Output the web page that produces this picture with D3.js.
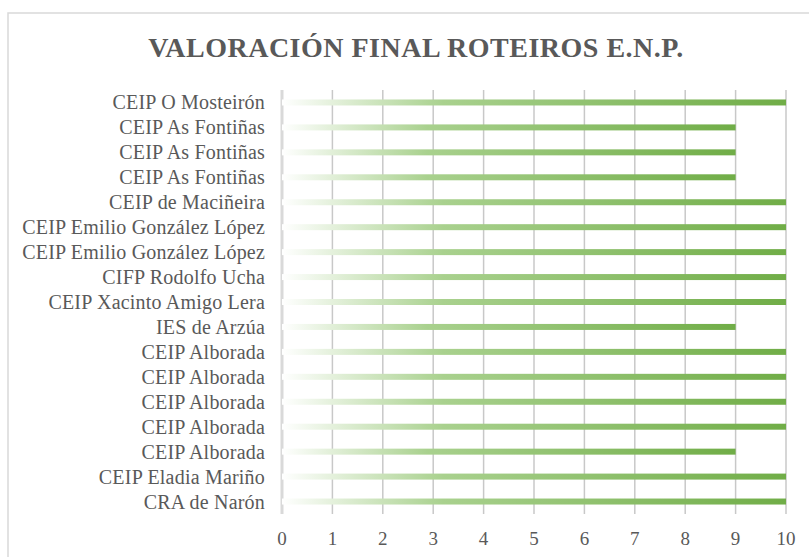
<!DOCTYPE html>
<meta charset="utf-8">
<head>
  <script src="https://d3js.org/d3.v7.min.js"></script>
  <style>
    body { margin: 0; background: #fff; }
  </style>
</head>
<body>
<div id="bar_chart"></div>
<script>

// chart data, top row first
var schools = ["CEIP O Mosteirón", "CEIP As Fontiñas", "CEIP As Fontiñas", "CEIP As Fontiñas",
  "CEIP de Maciñeira", "CEIP Emilio González López", "CEIP Emilio González López",
  "CIFP Rodolfo Ucha", "CEIP Xacinto Amigo Lera", "IES de Arzúa", "CEIP Alborada",
  "CEIP Alborada", "CEIP Alborada", "CEIP Alborada", "CEIP Alborada",
  "CEIP Eladia Mariño", "CRA de Narón"];
var scores = [10, 9, 9, 9, 10, 10, 10, 10, 10, 9, 10, 10, 10, 10, 9, 10, 10];
var ticks = [0, 1, 2, 3, 4, 5, 6, 7, 8, 9, 10];
var title = "VALORACIÓN FINAL ROTEIROS E.N.P.";

var FONT = "'Liberation Serif', 'Times New Roman', serif";
var W = 809, H = 557;
var margin = {top: 90, right: 23, bottom: 43, left: 282},
    width = W - margin.left - margin.right,
    height = H - margin.top - margin.bottom;

var root = d3.select("#bar_chart")
  .append("svg")
    .attr("width", W)
    .attr("height", H)
    .attr("font-family", FONT);

// gradient fill like the spreadsheet bars
var grad = root.append("defs").append("linearGradient")
    .attr("id", "barGrad")
    .attr("x1", "0").attr("x2", "1").attr("y1", "0").attr("y2", "0");
grad.append("stop").attr("offset", "0%").attr("stop-color", "#ffffff");
grad.append("stop").attr("offset", "32%").attr("stop-color", "#a9d18e");
grad.append("stop").attr("offset", "100%").attr("stop-color", "#70ad47");

// chart area border
root.append("rect")
    .attr("x", 8).attr("y", 13)
    .attr("width", 820).attr("height", 600)
    .attr("fill", "none")
    .attr("stroke", "#d9d9d9")
    .attr("stroke-width", 1.5);

root.append("text")
    .attr("x", 416).attr("y", 57)
    .attr("text-anchor", "middle")
    .attr("fill", "#595959")
    .style("font-size", "28px")
    .style("font-weight", "bold")
    .style("letter-spacing", "0.5px")
    .text(title);

var svg = root.append("g")
    .attr("transform", "translate(" + margin.left + "," + margin.top + ")");

var x = d3.scaleLinear()
    .domain([0, 10])
    .range([0, width]);

var y = d3.scaleBand()
    .domain(d3.range(schools.length))
    .range([0, height]);

// vertical gridlines
svg.selectAll(".grid")
  .data(ticks)
  .enter().append("line")
    .attr("x1", function(d) { return x(d); })
    .attr("x2", function(d) { return x(d); })
    .attr("y1", 0)
    .attr("y2", height)
    .attr("stroke", function(d) { return d === 0 ? "#d9d9d9" : "#c8c8c8"; })
    .attr("stroke-width", function(d) { return d === 0 ? 3 : 1.5; });

// x tick labels
svg.selectAll(".tick-label")
  .data(ticks)
  .enter().append("text")
    .attr("x", function(d) { return x(d); })
    .attr("y", height + 31)
    .attr("text-anchor", "middle")
    .attr("fill", "#595959")
    .style("font-size", "19px")
    .text(function(d) { return d; });

// bars
var barH = 6;
svg.selectAll(".bar")
  .data(scores)
  .enter().append("rect")
    .attr("x", x(0))
    .attr("y", function(d, i) { return y(i) + y.bandwidth() / 2 - barH / 2; })
    .attr("width", function(d) { return x(d) - x(0); })
    .attr("height", barH)
    .attr("fill", "url(#barGrad)");

// category labels
svg.selectAll(".cat")
  .data(schools)
  .enter().append("text")
    .attr("x", -17)
    .attr("y", function(d, i) { return y(i) + y.bandwidth() / 2; })
    .attr("dy", "0.35em")
    .attr("text-anchor", "end")
    .attr("fill", "#595959")
    .style("font-size", "20px")
    .style("letter-spacing", "0.2px")
    .text(function(d) { return d; });

</script>
</body>
